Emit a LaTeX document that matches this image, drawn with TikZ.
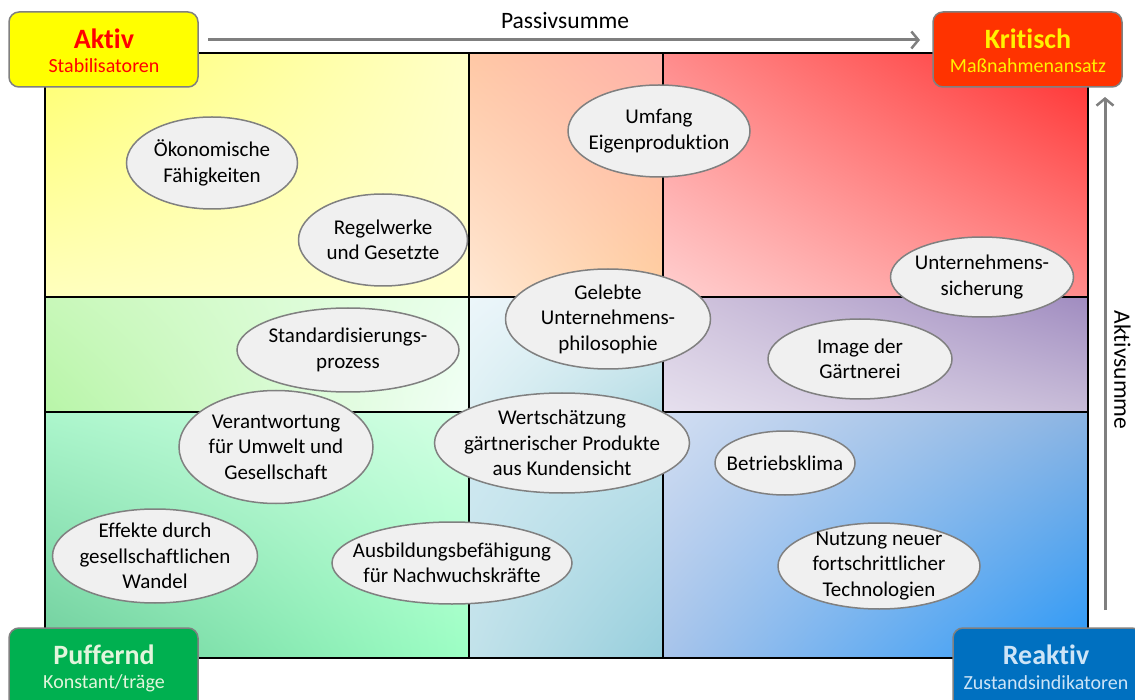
\documentclass[tikz,border=0pt]{standalone}
\usepackage{fontspec}
\setmainfont{Carlito}[Ligatures=NoCommon]
\usetikzlibrary{shapes.geometric,arrows.meta,shadings}
\definecolor{bubfill}{HTML}{F0F0F0}
\definecolor{bubdraw}{HTML}{808080}
\definecolor{axisgrey}{HTML}{7F7F7F}
\definecolor{aktivfill}{HTML}{FFFF00}
\definecolor{kritfill}{HTML}{FF3300}
\definecolor{pufffill}{HTML}{00B050}
\definecolor{reakfill}{HTML}{0070C0}
\definecolor{pufftext}{HTML}{E2F5DC}
\definecolor{reaktext}{HTML}{CDE4F7}
% cell colours
\definecolor{aUL}{HTML}{FFFF6E}\definecolor{aUR}{HTML}{FFFFC8}\definecolor{aLL}{HTML}{FFFFBE}\definecolor{aLR}{HTML}{FFFFCD}
\definecolor{bUL}{HTML}{FFC8A5}\definecolor{bUR}{HTML}{FFB0AA}\definecolor{bLL}{HTML}{FFE8D4}\definecolor{bLR}{HTML}{FFD0A0}
\definecolor{cUL}{HTML}{FF8C8C}\definecolor{cUR}{HTML}{FF2D2D}\definecolor{cLL}{HTML}{FFD0D0}\definecolor{cLR}{HTML}{FF8C8C}
\definecolor{dUL}{HTML}{C8F8B9}\definecolor{dUR}{HTML}{EAFFEC}\definecolor{dLL}{HTML}{B8F5A8}\definecolor{dLR}{HTML}{F2FFF6}
\definecolor{eUL}{HTML}{ECF6FA}\definecolor{eUR}{HTML}{DCEEF4}\definecolor{eLL}{HTML}{DEF0F4}\definecolor{eLR}{HTML}{B4DCE4}
\definecolor{fUL}{HTML}{D2C6DE}\definecolor{fUR}{HTML}{A08CC0}\definecolor{fLL}{HTML}{E6E0EE}\definecolor{fLR}{HTML}{C8BCD8}
\definecolor{gUL}{HTML}{ACF6CC}\definecolor{gUR}{HTML}{D4FFE4}\definecolor{gLL}{HTML}{6ECE9C}\definecolor{gLR}{HTML}{9CFFC4}
\definecolor{hUL}{HTML}{D2EAF2}\definecolor{hUR}{HTML}{C4E4EC}\definecolor{hLL}{HTML}{C2E2EA}\definecolor{hLR}{HTML}{96CEDC}
\definecolor{iUL}{HTML}{D2DEF2}\definecolor{iUR}{HTML}{8CB4E2}\definecolor{iLL}{HTML}{A8C4EA}\definecolor{iLR}{HTML}{2898F8}
\tikzset{
  bub/.style={ellipse, draw=bubdraw, fill=bubfill, line width=1.5pt,
    inner xsep=-40pt, inner ysep=-40pt,
    align=center, font=\fontsize{21}{25.5}\selectfont},
  cornerbox/.style={draw=bubdraw, line width=1.5pt, rounded corners=10pt,
    minimum width=189pt, inner sep=0pt},
  titletext/.style={font=\fontsize{28}{30}\selectfont\bfseries, inner sep=0pt},
  subtext/.style={font=\fontsize{20}{24}\selectfont, inner sep=0pt},
  axisarrow/.style={draw=axisgrey, line width=3pt,
    -{Straight Barb[length=7pt,width=17pt,line width=2.5pt]}},
  axislabel/.style={font=\fontsize{23.5}{27}\selectfont, inner sep=0pt},
  gridline/.style={draw=black, line width=1.5pt},
  cell/.style n args={4}{upper left=#1, upper right=#2, lower left=#3, lower right=#4}
}
\begin{document}
\begin{tikzpicture}[x=1pt,y=-1pt]
\useasboundingbox (0,0) rectangle (1135,700);
\clip (0,0) rectangle (1135,700);
% cells
\shade[cell={aUL}{aUR}{aLL}{aLR}] (45,53) rectangle (469,297);
\shade[cell={bUL}{bUR}{bLL}{bLR}] (469,53) rectangle (663,297);
\shade[cell={cUL}{cUR}{cLL}{cLR}] (663,53) rectangle (1088,297);
\shade[cell={dUL}{dUR}{dLL}{dLR}] (45,297) rectangle (469,412);
\shade[cell={eUL}{eUR}{eLL}{eLR}] (469,297) rectangle (663,412);
\shade[cell={fUL}{fUR}{fLL}{fLR}] (663,297) rectangle (1088,412);
\shade[cell={gUL}{gUR}{gLL}{gLR}] (45,412) rectangle (469,658);
\shade[cell={hUL}{hUR}{hLL}{hLR}] (469,412) rectangle (663,658);
\shade[cell={iUL}{iUR}{iLL}{iLR}] (663,412) rectangle (1088,658);
% grid
\draw[gridline] (45,53) rectangle (1088,658);
\draw[gridline] (469,53) -- (469,658);
\draw[gridline] (663,53) -- (663,658);
\draw[gridline] (45,297) -- (1088,297);
\draw[gridline] (45,412) -- (1088,412);
% bubbles
\node[bub, minimum width=171pt, minimum height=92pt] (oek) at (212,163) {Ökonomische\\Fähigkeiten};
\node[bub, minimum width=169pt, minimum height=92pt] (regel) at (383,240) {Regelwerke\\und Gesetzte};
\node[bub, minimum width=182pt, minimum height=92pt] (umfang) at (659,131) {Umfang\\Eigenproduktion};
\node[bub, minimum width=183pt, minimum height=80pt] (untsich) at (982,277) {Unternehmens-\\sicherung};
\node[bub, minimum width=205pt, minimum height=100pt] (gelebt) at (608,319) {Gelebte\\Unternehmens-\\philosophie};
\node[bub, minimum width=222pt, minimum height=84pt] (standard) at (348,350) {Standardisierungs-\\prozess};
\node[bub, minimum width=184pt, minimum height=80pt] (image) at (860,359) {Image der\\Gärtnerei};
\node[bub, minimum width=194pt, minimum height=113pt] (verant) at (276,447) {Verantwortung\\für Umwelt und\\Gesellschaft};
\node[bub, minimum width=255pt, minimum height=100pt] (wert) at (562,443) {Wertschätzung\\gärtnerischer Produkte\\aus Kundensicht};
\node[bub, minimum width=205pt, minimum height=94pt] (effekte) at (155,556) {Effekte durch\\gesellschaftlichen\\Wandel};
\node[bub, minimum width=240pt, minimum height=82pt] (ausb) at (452,563) {Ausbildungsbefähigung\\für Nachwuchskräfte};
\node[bub, minimum width=140pt, minimum height=64pt] (betrieb) at (785,463) {Betriebsklima};
\node[bub, minimum width=202pt, minimum height=86pt] (nutzung) at (879,566) {Nutzung neuer\\fortschrittlicher\\Technologien};
% corner boxes
\node[cornerbox, fill=aktivfill, minimum height=75pt] (aktiv) at (103.5,49.5) {};
\node[titletext, text=red] (aktivT) at (104,38.5) {Aktiv};
\node[subtext, text=red] (aktivS) at (104,65.5) {Stabilisatoren};
\node[cornerbox, fill=kritfill, minimum height=75pt] (krit) at (1027.5,49.5) {};
\node[titletext, text=yellow] (kritT) at (1028,38.5) {Kritisch};
\node[subtext, text=yellow] (kritS) at (1028,65.5) {Maßnahmenansatz};
\node[cornerbox, fill=pufffill, minimum height=86pt] (puff) at (103.5,671) {};
\node[titletext, text=pufftext] (puffT) at (104,655) {Puffernd};
\node[subtext, text=pufftext] (puffS) at (104,683) {Konstant/träge};
\node[cornerbox, fill=reakfill, minimum height=86pt] (reak) at (1047.5,671) {};
\node[titletext, text=reaktext] (reakT) at (1046,655) {Reaktiv};
\node[subtext, text=reaktext] (reakS) at (1046,683) {Zustandsindikatoren};
% axes
\coordinate (pstart) at (208,40);
\coordinate (pend) at (920,40);
\coordinate (astart) at (1105,610);
\coordinate (aend) at (1105,97);
\draw[axisarrow] (pstart) -- (pend);
\draw[axisarrow] (astart) -- (aend);
\node[axislabel] (passiv) at (565,20.5) {Passivsumme};
\node[axislabel, rotate=-90] (aktivsum) at (1122.5,370) {Aktivsumme};
\end{tikzpicture}
\end{document}
